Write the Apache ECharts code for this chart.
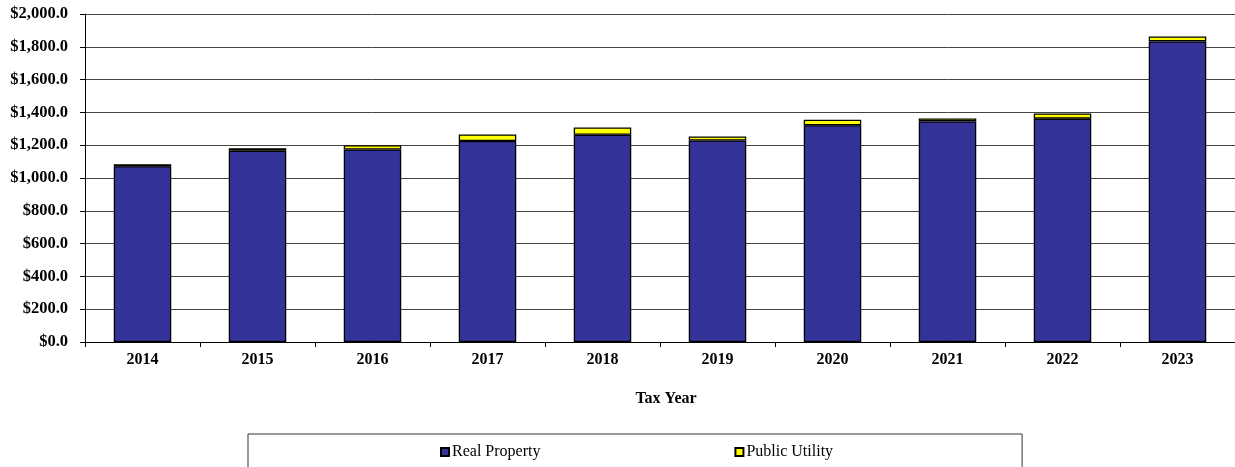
<!DOCTYPE html>
<html>
<head>
<meta charset="utf-8">
<script src="https://cdn.jsdelivr.net/npm/echarts@6/dist/echarts.min.js"></script>
<style>
html,body{margin:0;padding:0;background:#fff;}
#chart{width:1235px;height:467px;}
</style>
</head>
<body>
<div id="chart"></div>
<script>
const years = ['2014','2015','2016','2017','2018','2019','2020','2021','2022','2023'];
const realProperty = [1072, 1166, 1174, 1226, 1264, 1229, 1322, 1345, 1362, 1833];
const publicUtility = [12, 16, 26, 40, 44, 24, 33, 18, 32, 30];
const yTicks = [0, 200, 400, 600, 800, 1000, 1200, 1400, 1600, 1800, 2000];

const serif = '"Liberation Serif", "Times New Roman", serif';
const chart = echarts.init(document.getElementById('chart'), null, {renderer: 'canvas'});

function money(v) {
  return '$' + Number(v).toLocaleString('en-US', {minimumFractionDigits: 1, maximumFractionDigits: 1});
}

chart.setOption({
  animation: false,
  backgroundColor: '#fff',
  grid: {left: 85, top: 14, width: 1153, height: 328, containLabel: false},
  legend: {
    data: ['Real Property', 'Public Utility'],
    left: 248,
    top: 434,
    padding: [10, 189, 30, 192],
    itemGap: 194,
    itemWidth: 8,
    itemHeight: 8,
    icon: 'rect',
    borderColor: '#333',
    borderWidth: 1,
    backgroundColor: '#fff',
    textStyle: {fontFamily: serif, fontSize: 16, color: '#000', padding: [0, 0, 0, -2]}
  },
  xAxis: {
    type: 'category',
    data: years,
    boundaryGap: true,
    name: 'Tax Year',
    nameLocation: 'middle',
    nameGap: 49,
    nameTextStyle: {fontFamily: serif, fontSize: 16, fontWeight: 'bold', color: '#000', padding: [0, 0, 0, 12]},
    axisLine: {lineStyle: {color: '#000', width: 1}},
    axisTick: {show: true, alignWithLabel: false, length: 5, lineStyle: {color: '#000'}},
    axisLabel: {fontFamily: serif, fontSize: 16, fontWeight: 'bold', color: '#000', margin: 10}
  },
  yAxis: {
    type: 'value',
    min: yTicks[0],
    max: yTicks[yTicks.length - 1],
    interval: 200,
    axisLine: {show: true, lineStyle: {color: '#000', width: 1}},
    axisTick: {show: true, length: 5, lineStyle: {color: '#000'}},
    splitLine: {show: true, lineStyle: {color: '#444', width: 1}},
    axisLabel: {fontFamily: serif, fontSize: 16.5, fontWeight: 'bold', color: '#000', margin: 17, formatter: money}
  },
  series: [
    {
      name: 'Real Property',
      type: 'bar',
      stack: 'total',
      data: realProperty,
      barWidth: '50%',
      itemStyle: {color: '#333399', borderColor: '#000', borderWidth: 1.3}
    },
    {
      name: 'Public Utility',
      type: 'bar',
      stack: 'total',
      data: publicUtility,
      barWidth: '50%',
      itemStyle: {color: '#FFFF00', borderColor: '#000', borderWidth: 1.3}
    }
  ]
});
</script>
</body>
</html>
